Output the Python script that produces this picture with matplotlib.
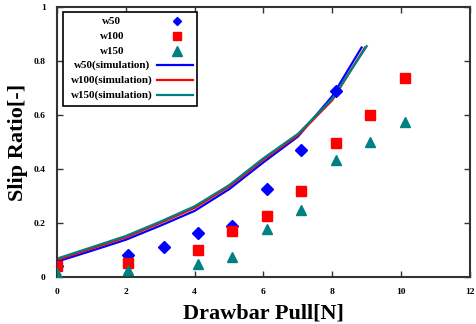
import matplotlib
matplotlib.use("Agg")
import matplotlib.pyplot as plt
from matplotlib.patches import Rectangle
from matplotlib.lines import Line2D

# measured points
x50 = [0, 2.05, 3.1, 4.1, 5.1, 6.1, 7.1, 8.1]
y50 = [0.04, 0.08, 0.11, 0.163, 0.19, 0.325, 0.47, 0.69]
x100 = [0, 2.05, 4.1, 5.1, 6.1, 7.1, 8.1, 9.1, 10.1]
y100 = [0.04, 0.053, 0.10, 0.17, 0.227, 0.32, 0.498, 0.60, 0.736]
x150 = [0, 2.05, 4.1, 5.1, 6.1, 7.1, 8.1, 9.1, 10.1]
y150 = [0.015, 0.026, 0.048, 0.074, 0.178, 0.25, 0.435, 0.50, 0.575]

# simulation curves
xs50 = [0, 1, 2, 3, 4, 5, 6, 7, 8, 8.85]
ys50 = [0.057, 0.097, 0.138, 0.19, 0.245, 0.325, 0.425, 0.52, 0.67, 0.85]
xs100 = [0, 1, 2, 3, 4, 5, 6, 7, 8, 8.95]
ys100 = [0.063, 0.105, 0.147, 0.2, 0.256, 0.335, 0.435, 0.525, 0.655, 0.85]
xs150 = [0, 1, 2, 3, 4, 5, 6, 7, 8, 9.0]
ys150 = [0.068, 0.11, 0.152, 0.205, 0.262, 0.34, 0.44, 0.53, 0.66, 0.855]

labels = ["w50", "w100", "w150", "w50(simulation)", "w100(simulation)", "w150(simulation)"]
blue = "#0000ff"
red = "#ff0000"
teal = "#008080"

plt.rcParams['font.family'] = ['Liberation Serif', 'DejaVu Serif']
plt.rcParams['font.weight'] = 'bold'

fig = plt.figure(figsize=(4.76, 3.24), dpi=100)
ax = fig.add_axes([0.1197, 0.145, 0.8676, 0.8333])

ax.plot(xs50, ys50, color=blue, lw=1.6, zorder=2)
ax.plot(xs100, ys100, color=red, lw=1.6, zorder=2)
ax.plot(xs150, ys150, color=teal, lw=1.6, zorder=2)
ax.plot(x50, y50, 'D', color=blue, ms=6, ls='none', zorder=3)
ax.plot(x100, y100, 's', color=red, ms=7, ls='none', zorder=3)
ax.plot(x150, y150, '^', color=teal, ms=7.5, ls='none', zorder=3)

ax.set_xlim(0, 12)
ax.set_ylim(0, 1)
ax.set_xticks([0, 2, 4, 6, 8, 10, 12])
ax.set_yticks([0, 0.2, 0.4, 0.6, 0.8, 1])
ax.set_xticklabels(["0", "2", "4", "6", "8", "10", "12"])
ax.set_yticklabels(["0", "0.2", "0.4", "0.6", "0.8", "1"])
ax.tick_params(direction='in', length=4, width=1, top=True, right=True,
               labelsize=6.8, pad=8, colors='#333333', labelcolor='black')
for s in ax.spines.values():
    s.set_linewidth(1.5)
    s.set_color('#333333')

ax.set_xlabel("Drawbar Pull[N]", fontsize=16, fontweight='bold', labelpad=5)
ax.set_ylabel("Slip Ratio[-]", fontsize=16, fontweight='bold', labelpad=4)

# legend box drawn by hand (labels centered, handles on the right)
tr = ax.transAxes
ax.add_patch(Rectangle((0.015, 0.635), 0.325, 0.345, transform=tr, fill=True,
                       facecolor='white', edgecolor='black', lw=1.2, zorder=5))
rows = [0.947, 0.891, 0.836, 0.784, 0.728, 0.673]
for i, lab in enumerate(labels):
    ax.text(0.133, rows[i], lab, transform=tr, ha='center', va='center',
            fontsize=8, fontweight='bold', zorder=6)
ax.add_line(Line2D([0.290], [rows[0]], marker='D', color=blue, ms=4.5, transform=tr, zorder=6))
ax.add_line(Line2D([0.290], [rows[1]], marker='s', color=red, ms=5.5, transform=tr, zorder=6))
ax.add_line(Line2D([0.290], [rows[2]], marker='^', color=teal, ms=6.5, transform=tr, zorder=6))
ax.add_line(Line2D([0.242, 0.330], [rows[3]] * 2, color=blue, lw=1.6, transform=tr, zorder=6))
ax.add_line(Line2D([0.242, 0.330], [rows[4]] * 2, color=red, lw=1.6, transform=tr, zorder=6))
ax.add_line(Line2D([0.242, 0.330], [rows[5]] * 2, color=teal, lw=1.6, transform=tr, zorder=6))

fig.savefig("out.png", dpi=100)
